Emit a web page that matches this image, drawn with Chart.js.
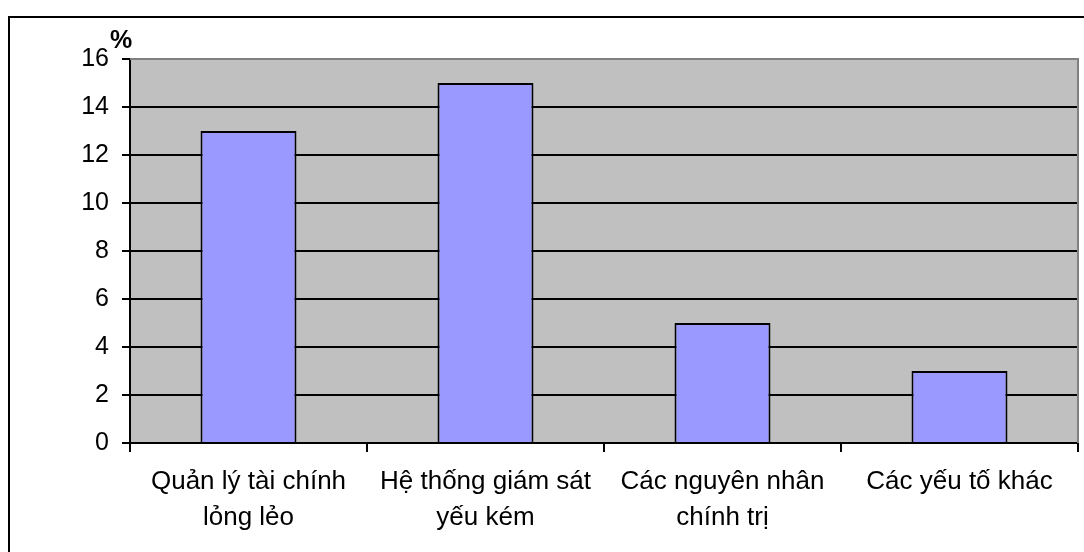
<!DOCTYPE html>
<html lang="vi">
<head>
<meta charset="utf-8">
<title>Nguyên nhân</title>
<script src="https://cdn.jsdelivr.net/npm/chart.js@4/dist/chart.umd.min.js"></script>
<style>
  html, body { margin: 0; padding: 0; background: #fff; }
  #wrap { width: 1084px; height: 552px; position: relative; }
</style>
</head>
<body>
<div id="wrap"><canvas id="c" width="1084" height="552"></canvas></div>
<script>
// Categories (two-line labels) and their percentages
const categories = [
  ['Quản lý tài chính', 'lỏng lẻo'],
  ['Hệ thống giám sát', 'yếu kém'],
  ['Các nguyên nhân', 'chính trị'],
  ['Các yếu tố khác']
];
const values = [13, 15, 5, 3];
const yTicks = [0, 2, 4, 6, 8, 10, 12, 14, 16];
const unitLabel = '%';

const FONT = "'Liberation Sans', Arial, sans-serif";

// Gray plot background, outer frame, plot border and unit label
const framePlugin = {
  id: 'frame',
  beforeDraw(chart) {
    const { ctx, chartArea: a } = chart;
    ctx.save();
    ctx.fillStyle = '#c0c0c0';
    ctx.fillRect(a.left, a.top, a.right - a.left, a.bottom - a.top);
    ctx.strokeStyle = '#000';
    ctx.lineWidth = 2;
    ctx.strokeRect(9, 17, chart.width + 20, chart.height + 20);
    ctx.restore();
  },
  afterDraw(chart) {
    const { ctx, chartArea: a } = chart;
    ctx.save();
    ctx.strokeStyle = '#808080';
    ctx.lineWidth = 2;
    ctx.beginPath();
    ctx.moveTo(a.left, a.top);
    ctx.lineTo(a.right, a.top);
    ctx.lineTo(a.right, a.bottom);
    ctx.stroke();
    ctx.fillStyle = '#000';
    ctx.font = 'bold 25px ' + FONT;
    ctx.textAlign = 'center';
    ctx.textBaseline = 'middle';
    ctx.fillText(unitLabel, a.left - 9, a.top - 18);
    ctx.restore();
  }
};

new Chart(document.getElementById('c'), {
  type: 'bar',
  data: {
    labels: categories,
    datasets: [{
      data: values,
      backgroundColor: '#9999ff',
      borderColor: '#000',
      borderWidth: 2,
      categoryPercentage: 1,
      barPercentage: 0.405
    }]
  },
  options: {
    responsive: false,
    devicePixelRatio: 1,
    animation: false,
    layout: { padding: { top: 59, right: 6, left: 0, bottom: 0 } },
    plugins: { legend: { display: false }, tooltip: { enabled: false } },
    scales: {
      x: {
        offset: true,
        grid: {
          offset: true,
          drawOnChartArea: false,
          drawTicks: true,
          tickLength: 9,
          color: '#000',
          lineWidth: 2
        },
        border: { color: '#000', width: 2 },
        ticks: {
          color: '#000',
          font: { family: FONT, size: 26, lineHeight: 1.38 },
          padding: 12,
          maxRotation: 0,
          autoSkip: false
        },
        afterFit(s) { s.height = 109; }
      },
      y: {
        min: 0,
        max: 16,
        afterBuildTicks(s) { s.ticks = yTicks.map(v => ({ value: v })); },
        grid: {
          color: ctx => (ctx.tick && ctx.tick.value === 16) ? '#808080' : '#000',
          lineWidth: 2,
          tickLength: 8,
          tickColor: '#000'
        },
        border: { color: '#000', width: 2 },
        ticks: {
          color: '#000',
          font: { family: FONT, size: 25 },
          padding: 13
        },
        afterFit(s) { s.width = 130; }
      }
    }
  },
  plugins: [framePlugin]
});
</script>
</body>
</html>
